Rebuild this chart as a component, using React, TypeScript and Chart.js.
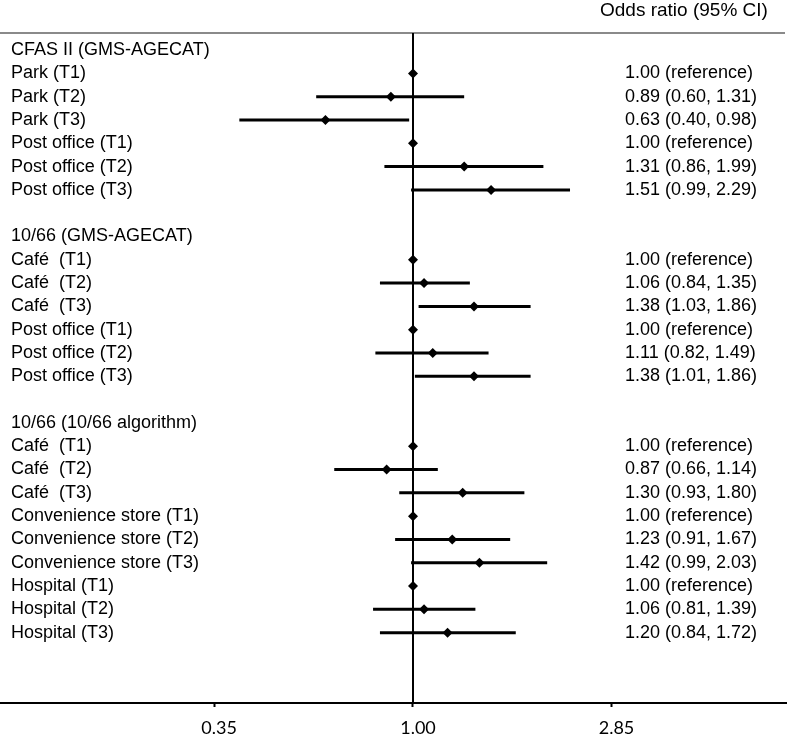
import React, { useEffect, useRef } from "react";
import { Chart, registerables } from "chart.js";

Chart.register(...registerables);

// ---- Data ----
const rowLabels = [
  "CFAS II (GMS-AGECAT)",
  "Park (T1)",
  "Park (T2)",
  "Park (T3)",
  "Post office (T1)",
  "Post office (T2)",
  "Post office (T3)",
  "",
  "10/66 (GMS-AGECAT)",
  "Café  (T1)",
  "Café  (T2)",
  "Café  (T3)",
  "Post office (T1)",
  "Post office (T2)",
  "Post office (T3)",
  "",
  "10/66 (10/66 algorithm)",
  "Café  (T1)",
  "Café  (T2)",
  "Café  (T3)",
  "Convenience store (T1)",
  "Convenience store (T2)",
  "Convenience store (T3)",
  "Hospital (T1)",
  "Hospital (T2)",
  "Hospital (T3)",
];

const oddsRatios = [
  null, 1.0, 0.89, 0.63, 1.0, 1.31, 1.51,
  null,
  null, 1.0, 1.06, 1.38, 1.0, 1.11, 1.38,
  null,
  null, 1.0, 0.87, 1.3, 1.0, 1.23, 1.42, 1.0, 1.06, 1.2,
];

const ciLower = [
  null, null, 0.6, 0.4, null, 0.86, 0.99,
  null,
  null, null, 0.84, 1.03, null, 0.82, 1.01,
  null,
  null, null, 0.66, 0.93, null, 0.91, 0.99, null, 0.81, 0.84,
];

const ciUpper = [
  null, null, 1.31, 0.98, null, 1.99, 2.29,
  null,
  null, null, 1.35, 1.86, null, 1.49, 1.86,
  null,
  null, null, 1.14, 1.8, null, 1.67, 2.03, null, 1.39, 1.72,
];

const xTickValues = [0.35, 1.0, 2.85];
const columnHeader = "Odds ratio (95% CI)";
const referenceValue = 1.0;

function rightText(i: number): string {
  const v = oddsRatios[i];
  if (v == null) return "";
  const lo = ciLower[i];
  const hi = ciUpper[i];
  if (lo == null || hi == null) return `${v.toFixed(2)} (reference)`;
  return `${v.toFixed(2)} (${lo.toFixed(2)}, ${hi.toFixed(2)})`;
}

const forestPlugin = {
  id: "forestText",
  beforeDatasetsDraw(chart: any) {
    const { ctx, chartArea, scales } = chart;
    const x = scales.x;
    ctx.save();
    // top rule
    ctx.strokeStyle = "#8a8a8a";
    ctx.lineWidth = 2;
    ctx.beginPath();
    ctx.moveTo(0, chartArea.top);
    ctx.lineTo(chart.width - 2, chartArea.top);
    ctx.stroke();
    // reference line
    const px = Math.round(x.getPixelForValue(referenceValue));
    ctx.strokeStyle = "#000";
    ctx.lineWidth = 2;
    ctx.beginPath();
    ctx.moveTo(px, chartArea.top);
    ctx.lineTo(px, chartArea.bottom);
    ctx.stroke();
    ctx.restore();
  },
  afterDraw(chart: any) {
    const { ctx, scales } = chart;
    const y = scales.y;
    ctx.save();
    ctx.fillStyle = "#000";
    ctx.textBaseline = "middle";
    ctx.textAlign = "left";
    // header
    ctx.font = '19px "Liberation Sans", Arial, sans-serif';
    ctx.fillText(columnHeader, 600, 11);
    // row labels
    ctx.font = '18px "Liberation Sans", Arial, sans-serif';
    rowLabels.forEach((lab, i) => {
      if (!lab) return;
      ctx.fillText(lab, 11, y.getPixelForValue(i));
    });
    // right column
    ctx.font = '18px "Liberation Sans", Arial, sans-serif';
    rowLabels.forEach((_, i) => {
      const t = rightText(i);
      if (!t) return;
      ctx.fillText(t, 625, y.getPixelForValue(i));
    });
    ctx.restore();
  },
};

export default function App() {
  const canvasRef = useRef<HTMLCanvasElement | null>(null);

  useEffect(() => {
    const canvas = canvasRef.current;
    if (!canvas) return;

    const ciDatasets: any[] = [];
    rowLabels.forEach((_, i) => {
      const lo = ciLower[i];
      const hi = ciUpper[i];
      if (lo == null || hi == null) return;
      ciDatasets.push({
        type: "line",
        data: [
          { x: lo, y: i },
          { x: hi, y: i },
        ],
        borderColor: "#000",
        borderWidth: 3,
        pointRadius: 0,
        showLine: true,
        fill: false,
        order: 2,
      });
    });

    const pointData: any[] = [];
    oddsRatios.forEach((v, i) => {
      if (v != null) pointData.push({ x: v, y: i });
    });

    const chart = new Chart(canvas, {
      type: "scatter",
      data: {
        datasets: [
          ...ciDatasets,
          {
            type: "scatter",
            data: pointData,
            pointStyle: "rectRot",
            pointRadius: 5,
            backgroundColor: "#000",
            borderColor: "#000",
            borderWidth: 0,
            order: 1,
          },
        ],
      },
      options: {
        animation: false,
        responsive: false,
        devicePixelRatio: 1,
        layout: { autoPadding: false, padding: { top: 33, left: 0, right: 0, bottom: 0 } },
        plugins: {
          legend: { display: false },
          tooltip: { enabled: false },
        },
        scales: {
          x: {
            type: "logarithmic",
            min: 0.11313,
            max: 7.196,
            afterBuildTicks: (s: any) => {
              s.ticks = xTickValues.map((v) => ({ value: v }));
            },
            afterFit: (s: any) => {
              s.height = 32;
              s.paddingLeft = 0;
              s.paddingRight = 0;
            },
            ticks: {
              callback: (v: any) => Number(v).toFixed(2),
              font: { family: "Lato", size: 18 },
              color: "#000",
              padding: 10,
              maxRotation: 0,
              autoSkip: false,
              labelOffset: 5,
            },
            grid: {
              display: true,
              drawOnChartArea: false,
              drawTicks: true,
              tickLength: 4,
              tickWidth: 2,
              color: "#000",
            },
            border: { display: true, color: "#000", width: 2 },
          },
          y: {
            type: "linear",
            display: false,
            reverse: true,
            min: -0.734,
            max: 28.02,
          },
        },
      },
      plugins: [forestPlugin],
    } as any);

    return () => chart.destroy();
  }, []);

  return (
    <div style={{ position: "absolute", left: 0, top: 0, width: 787, height: 735, background: "#fff" }}>
      <canvas ref={canvasRef} width={787} height={735} style={{ display: "block" }} />
    </div>
  );
}
